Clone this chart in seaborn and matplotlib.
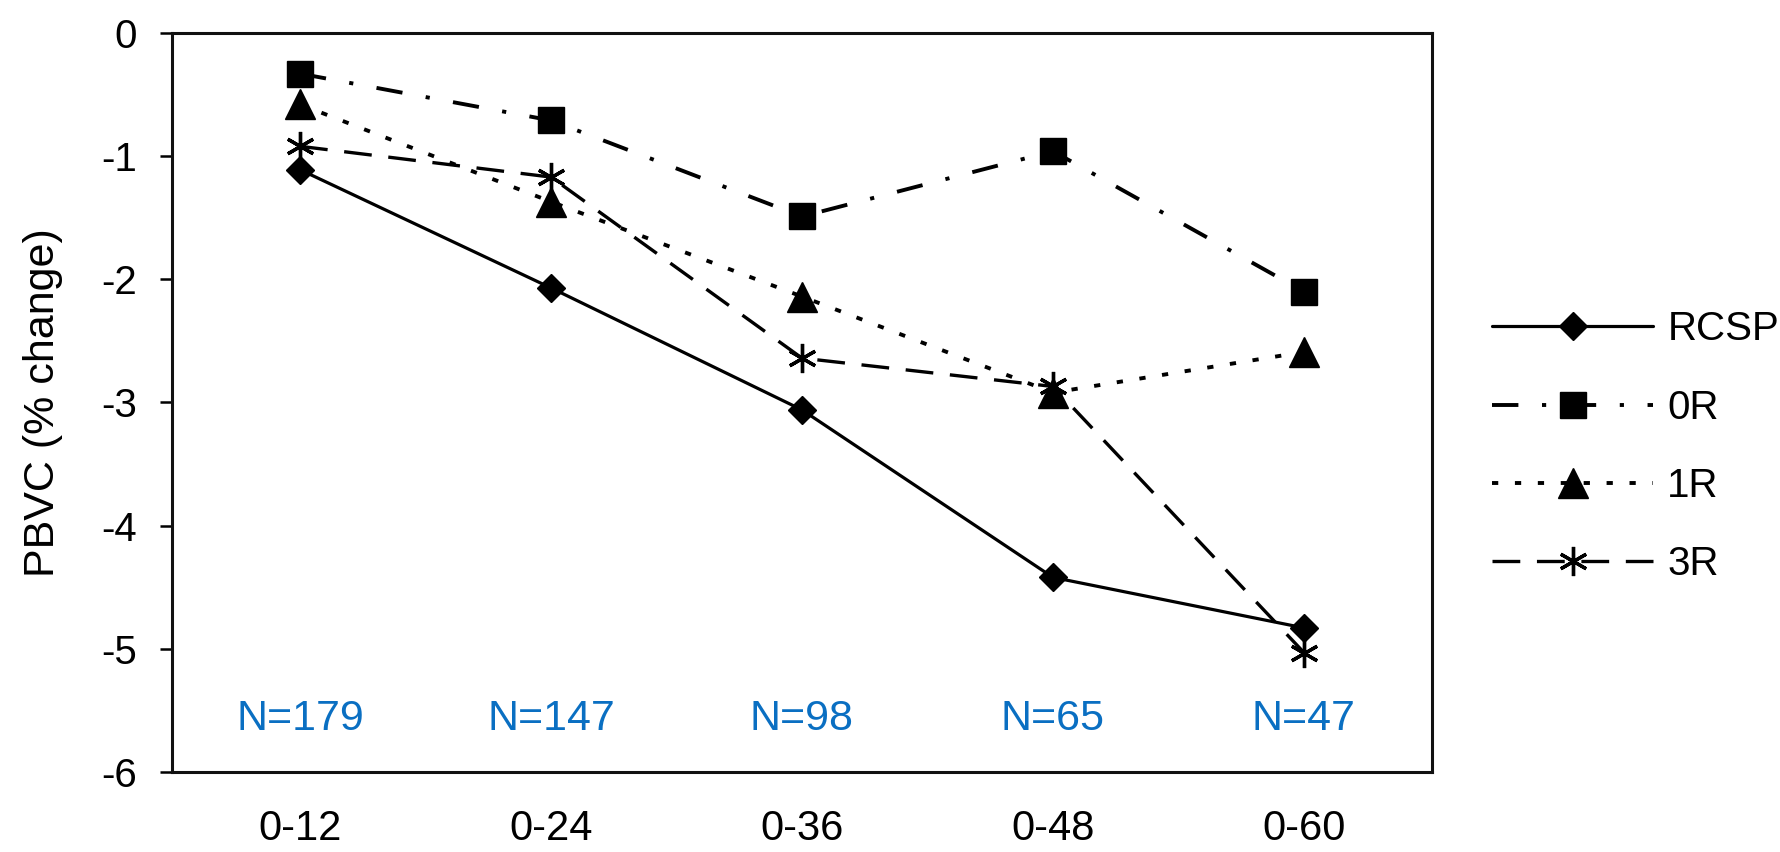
import matplotlib
matplotlib.use("Agg")
import matplotlib.pyplot as plt
import seaborn as sns
import pandas as pd

# Follow-up intervals (months) and cohort size per interval
periods = ["0-12", "0-24", "0-36", "0-48", "0-60"]
n_counts = [179, 147, 98, 65, 47]

# Percentage brain volume change per group
rcsp = [-1.11, -2.07, -3.06, -4.42, -4.83]
r0 = [-0.33, -0.71, -1.49, -0.96, -2.10]
r1 = [-0.58, -1.37, -2.14, -2.92, -2.59]
r3 = [-0.92, -1.17, -2.64, -2.87, -5.03]

group_names = ["RCSP", "0R", "1R", "3R"]
group_values = [rcsp, r0, r1, r3]

sns.set_style("white")
plt.rcParams["font.family"] = ["Liberation Sans", "DejaVu Sans"]
plt.rcParams["lines.scale_dashes"] = False
for key in ["text.color", "axes.labelcolor", "xtick.color", "ytick.color"]:
    plt.rcParams[key] = "black"

df = pd.DataFrame(
    [(p, v, g) for g, vals in zip(group_names, group_values) for p, v in zip(periods, vals)],
    columns=["period", "pbvc", "group"],
)

styles = {
    "RCSP": dict(marker="D", markersize=14, linestyle="-", linewidth=2.3),
    "0R": dict(marker="s", markersize=19, linestyle=(0, (19, 17, 3, 17)), linewidth=2.8),
    "1R": dict(marker="^", markersize=21, linestyle=(0, (4.5, 12)), linewidth=2.8),
    "3R": dict(marker=(6, 2, 0), markersize=21, linestyle=(0, (20, 12)), linewidth=2.4),
}

fig = plt.figure(figsize=(17.81, 8.52), dpi=100)
ax = fig.add_axes([0.0966, 0.0939, 0.7074, 0.8674])

for g in group_names:
    st = styles[g]
    sns.lineplot(
        data=df[df["group"] == g], x="period", y="pbvc", ax=ax,
        color="black", label=g, errorbar=None, sort=False,
        marker=st["marker"], markersize=st["markersize"],
        linestyle=st["linestyle"], linewidth=st["linewidth"],
        markeredgecolor="black", markerfacecolor="black",
        markeredgewidth=2.4 if g == "3R" else 1.0,
    )

# Sample size under each interval
for i, n in enumerate(n_counts):
    ax.text(i, -5.57, f"N={n}", ha="center", va="center",
            fontsize=31, color="#0A6FC2")

ax.set_xlim(-0.51, 4.51)
ax.set_ylim(-6, 0)
ax.set_yticks(range(-6, 1))
ax.set_yticklabels([str(v) for v in range(-6, 1)])
ax.set_xlabel("")
ax.set_ylabel("PBVC (% change)", fontsize=31, labelpad=28)

ax.tick_params(axis="y", direction="out", length=9, width=1.8,
               labelsize=29, pad=16, left=True, color="black")
ax.tick_params(axis="x", length=0, labelsize=30, pad=27)

for side in ["left", "right", "top", "bottom"]:
    ax.spines[side].set_visible(True)
    ax.spines[side].set_color("#111111")
    ax.spines[side].set_linewidth(2.2)

ax.legend(loc="center left", bbox_to_anchor=(1.035, 0.44), frameon=False,
          fontsize=29, handlelength=4.0, handletextpad=0.35,
          labelspacing=1.0, borderaxespad=0)

fig.savefig("out.png", dpi=100, facecolor="white")
